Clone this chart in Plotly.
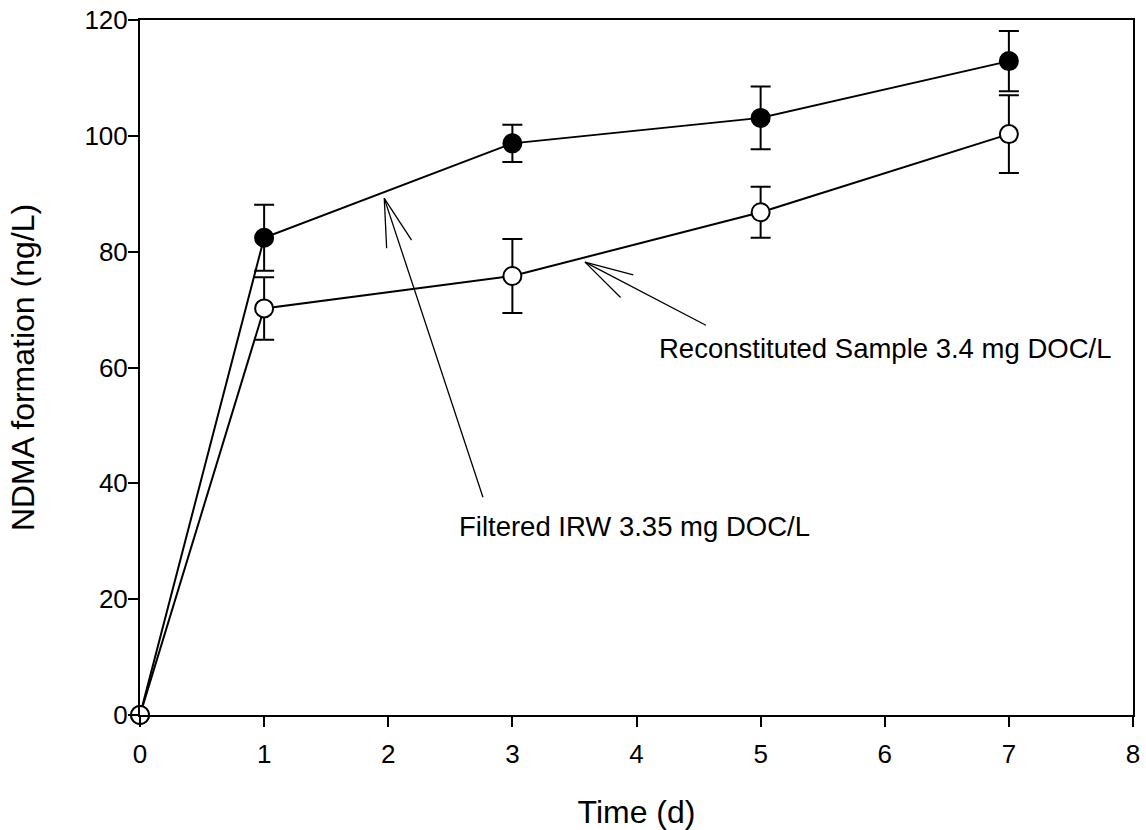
import plotly.graph_objects as go

# Sampling days and NDMA formation (ng/L) with standard deviations
time_d = [0, 1, 3, 5, 7]

irw_ndma = [0, 82.4, 98.7, 103.1, 112.9]
irw_err = [0, 5.7, 3.2, 5.4, 5.2]

recon_ndma = [0, 70.2, 75.8, 86.8, 100.3]
recon_err = [0, 5.4, 6.4, 4.4, 6.7]

x_ticks = [0, 1, 2, 3, 4, 5, 6, 7, 8]
y_ticks = [0, 20, 40, 60, 80, 100, 120]

FONT = "Arial, 'Liberation Sans', sans-serif"

fig = go.Figure()


def add_series(y, err, fill):
    fig.add_trace(go.Scatter(
        x=time_d, y=y,
        mode="lines+markers",
        line=dict(color="black", width=2),
        marker=dict(symbol="circle", size=18, color=fill,
                    line=dict(color="black", width=2)),
        error_y=dict(type="data", array=err, visible=True,
                     color="black", thickness=2, width=10),
        cliponaxis=False,
        showlegend=False,
    ))


add_series(irw_ndma, irw_err, "black")
add_series(recon_ndma, recon_err, "white")

# Open-headed pointer arrows: (tail, head, barb1, barb2) in data units
arrows = [
    ((2.763, 37.6), (1.968, 89.2), (1.987, 80.6), (2.188, 82.0)),
    ((4.559, 67.3), (3.585, 78.2), (3.974, 76.0), (3.872, 72.1)),
]
shapes = []
for tail, head, b1, b2 in arrows:
    for start in (tail, b1, b2):
        shapes.append(dict(type="line", xref="x", yref="y",
                           x0=start[0], y0=start[1], x1=head[0], y1=head[1],
                           line=dict(color="black", width=1.3)))

annotations = [
    dict(x=3.98, y=32.6, xref="x", yref="y", text="Filtered IRW 3.35 mg DOC/L",
         showarrow=False, xanchor="center", yanchor="middle",
         font=dict(family=FONT, size=27.5, color="black")),
    dict(x=4.165, y=63.2, xref="x", yref="y",
         text="Reconstituted Sample 3.4 mg DOC/L",
         showarrow=False, xanchor="left", yanchor="middle",
         font=dict(family=FONT, size=27.5, color="black")),
]

axis_common = dict(
    showgrid=False, zeroline=False, automargin=False,
    showline=True, linecolor="black", linewidth=2, mirror=True,
    ticks="outside", ticklen=10, tickwidth=2, tickcolor="black",
    tickfont=dict(family=FONT, size=26, color="black"),
)

fig.update_layout(
    width=1146, height=830,
    margin=dict(l=140, r=13, t=20, b=115),
    paper_bgcolor="white", plot_bgcolor="white",
    font=dict(family=FONT, color="black"),
    shapes=shapes,
    annotations=annotations,
    xaxis=dict(range=[0, 8], tickvals=x_ticks, ticklabelstandoff=5,
               title=dict(text="Time (d)", font=dict(family=FONT, size=32, color="black"),
                          standoff=36),
               **axis_common),
    yaxis=dict(range=[0, 120], tickvals=y_ticks, ticklabelstandoff=-5,
               title=dict(text="NDMA formation (ng/L)",
                          font=dict(family=FONT, size=32, color="black"),
                          standoff=40),
               **axis_common),
)

fig.write_html("out.html")
